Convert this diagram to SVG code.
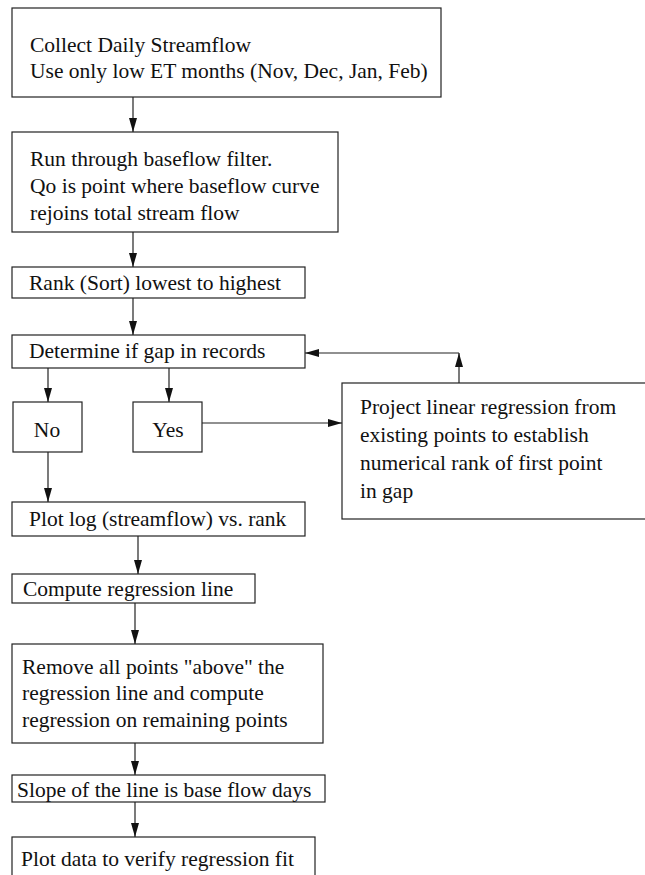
<svg xmlns="http://www.w3.org/2000/svg" width="645" height="875" viewBox="0 0 645 875">
<style>
.box{fill:#fff;stroke:#222;stroke-width:1.2}
.t{font-family:"Liberation Serif","Times New Roman",serif;font-size:21.5px;fill:#111}
.c{text-anchor:middle}
.ln{stroke:#222;stroke-width:1.2;fill:none;marker-end:url(#ah)}
</style>
<defs>
<marker id="ah" markerUnits="userSpaceOnUse" markerWidth="15" markerHeight="9" refX="14" refY="4" orient="auto">
<path d="M0,0 L14,4 L0,8 z" fill="#111"/>
</marker>
</defs>
<rect width="645" height="875" fill="#fff"/>
<g id="connectors">
<line class="ln" x1="133" y1="97" x2="133" y2="132"/>
<line class="ln" x1="133" y1="232" x2="133" y2="267"/>
<line class="ln" x1="133" y1="298" x2="133" y2="335"/>
<line class="ln" x1="48" y1="368" x2="48" y2="402"/>
<line class="ln" x1="169" y1="368" x2="169" y2="402"/>
<line class="ln" x1="202" y1="423" x2="342" y2="423"/>
<line class="ln" x1="459" y1="383" x2="459" y2="353"/>
<line class="ln" x1="459" y1="353" x2="305" y2="353"/>
<line class="ln" x1="48" y1="452" x2="48" y2="502"/>
<line class="ln" x1="138" y1="536" x2="138" y2="574"/>
<line class="ln" x1="135" y1="603" x2="135" y2="644"/>
<line class="ln" x1="135" y1="743" x2="135" y2="775"/>
<line class="ln" x1="135" y1="802" x2="135" y2="837"/>
</g>
<g id="n1"><rect class="box" x="12" y="8" width="429" height="89"/>
<text class="t" x="30" y="52">Collect Daily Streamflow</text>
<text class="t" x="30" y="78">Use only low ET months (Nov, Dec, Jan, Feb)</text></g>
<g id="n2"><rect class="box" x="12" y="132" width="326" height="100"/>
<text class="t" x="30" y="166">Run through baseflow filter.</text>
<text class="t" x="30" y="193">Qo is point where baseflow curve</text>
<text class="t" x="30" y="220">rejoins total stream flow</text></g>
<g id="n3"><rect class="box" x="12" y="267" width="293" height="31"/>
<text class="t" x="29" y="290">Rank (Sort) lowest to highest</text></g>
<g id="n4"><rect class="box" x="12" y="335" width="293" height="33"/>
<text class="t" x="29" y="358">Determine if gap in records</text></g>
<g id="n5"><rect class="box" x="13" y="402" width="69" height="50"/>
<text class="t c" x="47" y="437">No</text></g>
<g id="n6"><rect class="box" x="133" y="402" width="69" height="50"/>
<text class="t c" x="168" y="437">Yes</text></g>
<g id="n7"><rect class="box" x="342" y="383" width="310" height="136"/>
<text class="t" x="360" y="414">Project linear regression from</text>
<text class="t" x="360" y="442">existing points to establish</text>
<text class="t" x="360" y="470">numerical rank of first point</text>
<text class="t" x="360" y="498">in gap</text></g>
<g id="n8"><rect class="box" x="12" y="502" width="293" height="34"/>
<text class="t" x="29" y="526">Plot log (streamflow) vs. rank</text></g>
<g id="n9"><rect class="box" x="12" y="574" width="243" height="29"/>
<text class="t" x="23" y="596">Compute regression line</text></g>
<g id="n10"><rect class="box" x="12" y="644" width="311" height="99"/>
<text class="t" x="22" y="674">Remove all points "above" the</text>
<text class="t" x="22" y="700">regression line and compute</text>
<text class="t" x="22" y="727">regression on remaining points</text></g>
<g id="n11"><rect class="box" x="12" y="775" width="313" height="27"/>
<text class="t" x="17" y="797">Slope of the line is base flow days</text></g>
<g id="n12"><rect class="box" x="12" y="837" width="303" height="40"/>
<text class="t" x="21" y="866">Plot data to verify regression fit</text></g>
</svg>
